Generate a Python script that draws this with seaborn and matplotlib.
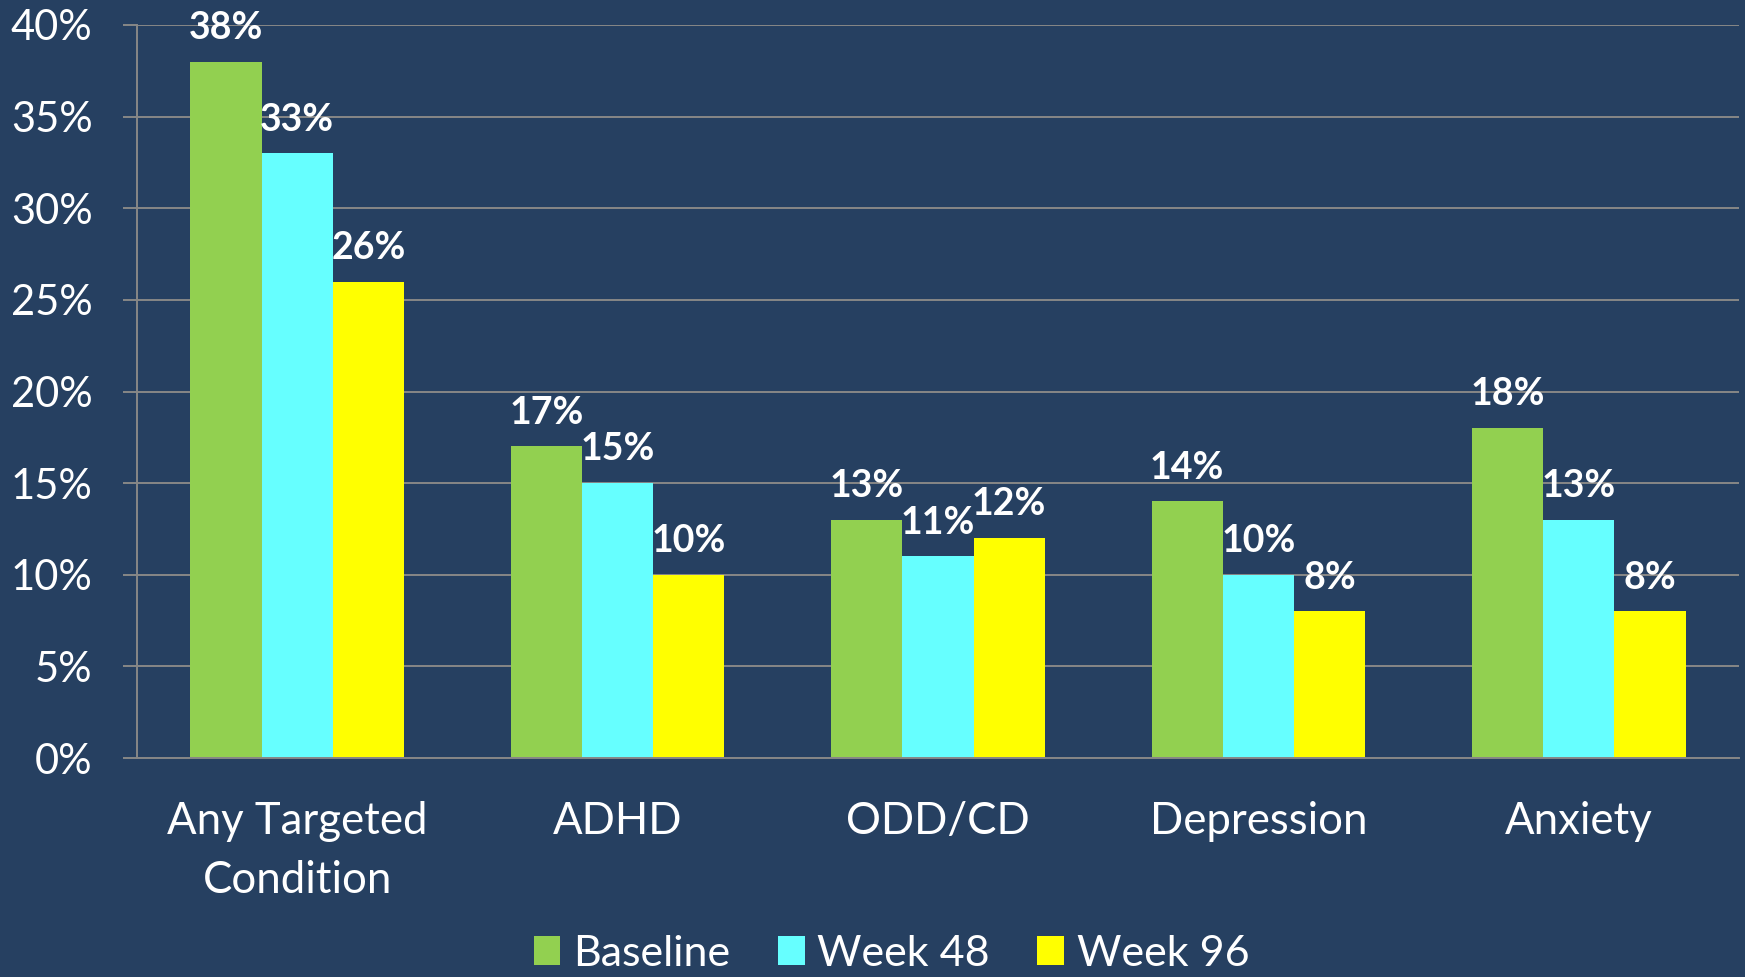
import seaborn as sns
import pandas as pd
import numpy as np
import matplotlib.pyplot as plt
from matplotlib.ticker import FuncFormatter, FixedLocator

# data
categories = ["Any Targeted\nCondition", "ADHD", "ODD/CD", "Depression", "Anxiety"]
timepoints = ["Baseline", "Week 48", "Week 96"]
baseline = [38, 17, 13, 14, 18]
week48 = [33, 15, 11, 10, 13]
week96 = [26, 10, 12, 8, 8]

colors = ["#92D050", "#66FFFF", "#FFFF00"]
bg = "#264061"
grid_col = "#878787"

df = pd.DataFrame({
    "Condition": categories * 3,
    "Time": np.repeat(timepoints, len(categories)),
    "Pct": baseline + week48 + week96,
})

sns.set_style("white")
plt.rcParams["font.family"] = ["Lato", "DejaVu Sans"]

fig = plt.figure(figsize=(17.45, 9.77), dpi=100, facecolor=bg)
ax = fig.add_axes([137/1745, 1 - 758/977, (1739-137)/1745, (758-25)/977])
ax.set_facecolor(bg)

sns.barplot(data=df, x="Condition", y="Pct", hue="Time", palette=colors,
            width=0.667, saturation=1, gap=0, ax=ax, legend=True,
            edgecolor="none", linewidth=0)

for cont in ax.containers:
    ax.bar_label(cont, fmt="{:.0f}%", padding=12, color="white",
                 fontsize=27, fontweight="bold")

ax.set_ylim(0, 40)
ax.set_xlim(-0.5, 4.5)
ax.set_yticks(np.arange(0, 41, 5))
ax.yaxis.set_major_formatter(FuncFormatter(lambda v, p: f"{v:.0f}%"))
ax.yaxis.grid(True, color=grid_col, linewidth=1.4)
ax.set_axisbelow(True)

ax.xaxis.set_minor_locator(FixedLocator(np.arange(-0.5, 5, 1)))
ax.tick_params(axis="x", which="major", length=0, pad=31, labelsize=31.5,
               labelcolor="white")
ax.tick_params(axis="x", which="minor", length=9, width=1.4, color=grid_col,
               direction="out")
ax.tick_params(axis="y", length=10, width=1.4, color=grid_col, pad=22,
               labelsize=30, labelcolor="white", left=True)
for lab in ax.get_xticklabels():
    lab.set_linespacing(1.55)

for s in ["top", "right"]:
    ax.spines[s].set_visible(False)
for s in ["left", "bottom"]:
    ax.spines[s].set_color(grid_col)
    ax.spines[s].set_linewidth(1.4)

ax.set_xlabel("")
ax.set_ylabel("")

handles, labels = ax.get_legend_handles_labels()
ax.get_legend().remove()
fig.legend(handles, labels, loc="center", bbox_to_anchor=(0.511, 0.024),
           ncol=3, frameon=False, fontsize=31, labelcolor="white",
           handlelength=0.62, handleheight=0.67, handletextpad=0.3,
           columnspacing=1.1, borderpad=0.2)

fig.savefig("out.png", dpi=100, facecolor=bg)
